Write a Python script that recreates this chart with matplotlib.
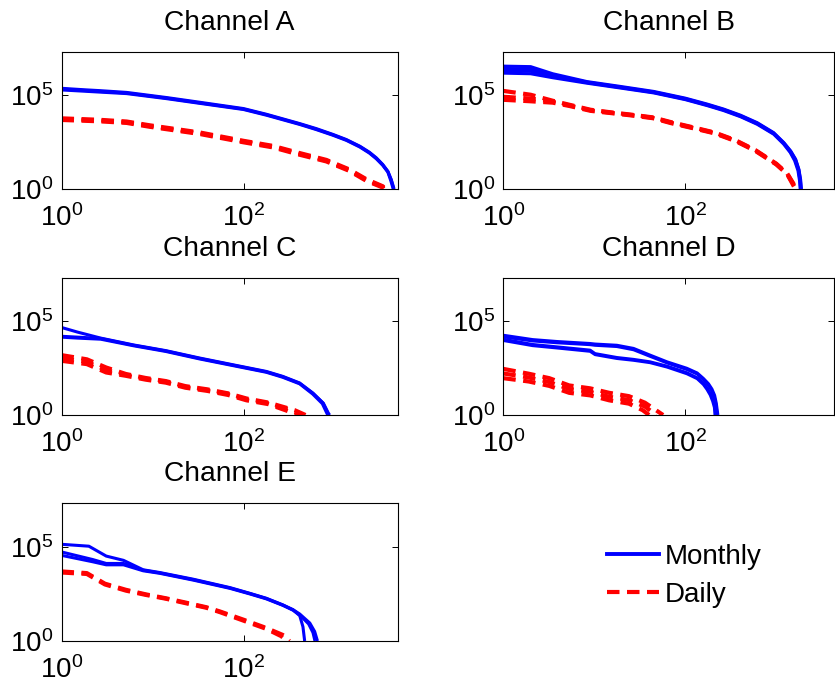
import matplotlib
matplotlib.use("Agg")
import matplotlib.pyplot as plt
from matplotlib.lines import Line2D
from matplotlib.ticker import NullLocator

plt.rcParams['font.family'] = ['Liberation Sans', 'DejaVu Sans']
plt.rcParams['mathtext.default'] = 'regular'

titles = ["Channel A", "Channel B", "Channel C", "Channel D", "Channel E"]
series_labels = ["Monthly", "Daily"]
x_ticks = [1, 100]
y_ticks = [1, 1e5]

# ---- Channel A: rank vs. count ----
a_monthly = [
    ([1, 1.74, 2.65, 5.2, 14.3, 33, 100, 179, 415, 630, 960, 1350, 1900, 2420, 2880, 3390, 3860, 4200, 4520],
     [2.2e5, 1.85e5, 1.65e5, 1.33e5, 7.1e4, 4.0e4, 1.85e4, 9.2e3, 2.95e3, 1.6e3, 790, 420, 186, 89, 45, 20, 8.7, 3.2, 1]),
    ([1, 1.74, 2.65, 5.2, 14.3, 33, 100, 179, 415, 630, 960, 1350, 1900, 2420, 2880, 3390, 3860, 4200, 4470],
     [2.0e5, 1.7e5, 1.5e5, 1.23e5, 6.6e4, 3.7e4, 1.74e4, 8.7e3, 2.8e3, 1.5e3, 750, 400, 178, 85, 43, 19, 8.3, 3.0, 1]),
    ([1, 1.74, 2.65, 5.2, 14.3, 33, 100, 179, 415, 630, 960, 1350, 1900, 2420, 2880, 3390, 3860, 4150, 4420],
     [1.8e5, 1.55e5, 1.38e5, 1.15e5, 6.2e4, 3.5e4, 1.65e4, 8.2e3, 2.65e3, 1.42e3, 710, 380, 168, 80, 40, 18, 7.8, 2.8, 1]),
]
a_daily = [
    ([1, 2.6, 5.2, 9.3, 33, 100, 209, 417, 813, 1450, 2240, 3390, 3600],
     [5.6e3, 4.7e3, 3.8e3, 2.4e3, 1.0e3, 360, 195, 80, 35, 11, 3.3, 1.4, 1]),
    ([1, 2.6, 5.2, 9.3, 33, 100, 209, 417, 813, 1450, 2240, 3390, 3550],
     [5.1e3, 4.3e3, 3.5e3, 2.2e3, 910, 330, 178, 72, 32, 10, 3.0, 1.3, 1]),
    ([1, 2.6, 5.2, 9.3, 33, 100, 209, 417, 813, 1450, 2240, 3390, 3480],
     [4.6e3, 3.9e3, 3.2e3, 2.0e3, 830, 300, 162, 65, 29, 9.2, 2.7, 1.2, 1]),
]

# ---- Channel B ----
b_monthly = [
    ([1, 2, 3.5, 8.3, 19, 45, 100, 174, 263, 405, 617, 935, 1210, 1440, 1630, 1770, 1850, 1890],
     [3.3e6, 3.1e6, 1.3e6, 5.0e5, 2.8e5, 1.5e5, 6.6e4, 3.2e4, 1.75e4, 8.2e3, 3.3e3, 980, 290, 104, 38, 11, 3.2, 1]),
    ([1, 2, 3.5, 8.3, 19, 45, 100, 174, 263, 405, 617, 935, 1210, 1440, 1630, 1770, 1840, 1870],
     [2.5e6, 2.3e6, 1.1e6, 4.7e5, 2.6e5, 1.4e5, 6.2e4, 3.0e4, 1.65e4, 7.7e3, 3.1e3, 920, 275, 98, 36, 10.5, 3.0, 1]),
    ([1, 2, 3.5, 8.3, 19, 45, 100, 174, 263, 405, 617, 935, 1210, 1430, 1610, 1750, 1820, 1850],
     [1.9e6, 1.75e6, 9.5e5, 4.4e5, 2.45e5, 1.32e5, 5.8e4, 2.8e4, 1.55e4, 7.2e3, 2.9e3, 860, 260, 92, 34, 10, 2.9, 1]),
    ([1, 2, 3.5, 8.3, 19, 45, 100, 174, 263, 405, 617, 935, 1200, 1420, 1590, 1730, 1800, 1830],
     [1.4e6, 1.3e6, 8.0e5, 4.1e5, 2.3e5, 1.25e5, 5.5e4, 2.65e4, 1.45e4, 6.8e3, 2.7e3, 810, 245, 87, 32, 9.5, 2.8, 1]),
]
b_daily = [
    ([1, 2, 3.5, 5.4, 9.1, 15.6, 26, 44, 70, 120, 209, 355, 590, 1000, 1320, 1590, 1640],
     [1.6e5, 1.0e5, 4.8e4, 2.9e4, 1.6e4, 1.15e4, 8.7e3, 6.3e3, 3.5e3, 1.9e3, 1.0e3, 390, 115, 22, 6.6, 1.5, 1]),
    ([1, 2, 3.5, 5.4, 9.1, 15.6, 26, 44, 70, 120, 209, 355, 590, 1000, 1320, 1590, 1620],
     [7.8e4, 6.3e4, 4.3e4, 2.7e4, 1.5e4, 1.1e4, 8.3e3, 6.0e3, 3.3e3, 1.8e3, 950, 370, 110, 21, 6.3, 1.4, 1]),
    ([1, 2, 3.5, 5.4, 9.1, 15.6, 26, 44, 70, 120, 209, 355, 590, 1000, 1320, 1570, 1600],
     [5.4e4, 4.5e4, 3.8e4, 2.5e4, 1.4e4, 1.05e4, 7.9e3, 5.7e3, 3.1e3, 1.7e3, 900, 350, 104, 20, 6.0, 1.3, 1]),
]

# ---- Channel C ----
c_monthly = [
    ([1, 1.5, 2.7, 6.2, 14, 33, 77, 178, 270, 414, 580, 745, 845, 870],
     [4.4e4, 2.5e4, 1.2e4, 5.2e3, 2.6e3, 1.05e3, 460, 205, 112, 50, 14.5, 4.4, 1.25, 1]),
    ([1, 1.5, 2.7, 6.2, 14, 33, 77, 178, 270, 414, 580, 755, 860, 885],
     [1.5e4, 1.35e4, 1.15e4, 5.0e3, 2.5e3, 1.0e3, 440, 195, 107, 48, 14, 4.2, 1.2, 1]),
    ([1, 1.5, 2.7, 6.2, 14, 33, 77, 178, 270, 414, 575, 735, 830, 850],
     [1.35e4, 1.2e4, 1.05e4, 4.7e3, 2.35e3, 940, 415, 185, 100, 45, 13, 4.0, 1.15, 1]),
]
c_daily = [
    ([1, 1.9, 3.1, 5.1, 8.4, 14, 23, 40, 68, 108, 186, 365, 480],
     [1.5e3, 900, 330, 150, 92, 63, 34, 23, 14, 7.5, 4.6, 1.8, 1]),
    ([1, 1.9, 3.1, 5.1, 8.4, 14, 23, 40, 68, 108, 186, 340, 440],
     [1.05e3, 660, 240, 135, 83, 58, 31, 21, 13, 6.8, 4.2, 1.7, 1]),
    ([1, 1.9, 3.1, 5.1, 8.4, 14, 23, 40, 68, 108, 186, 320, 400],
     [750, 500, 180, 120, 75, 52, 28, 19, 11.5, 6.0, 3.8, 1.5, 1]),
]

# ---- Channel D ----
d_monthly = [
    ([1, 2.1, 3.9, 9.0, 10.2, 17.7, 27, 41, 63, 104, 135, 158, 180, 196, 210, 219, 228],
     [1.7e4, 1.0e4, 7.9e3, 6.2e3, 5.8e3, 5.0e3, 3.4e3, 1.5e3, 660, 300, 170, 87, 45, 24, 11, 4.2, 1]),
    ([1, 2.1, 3.9, 9.0, 10.2, 17.7, 27, 41, 63, 104, 135, 158, 178, 194, 207, 217, 224],
     [1.4e4, 8.5e3, 6.8e3, 5.4e3, 5.0e3, 4.3e3, 2.9e3, 1.3e3, 580, 260, 150, 75, 40, 21, 10, 3.6, 1]),
    ([1, 2.1, 3.9, 9.0, 10.2, 17.7, 27, 41, 63, 104, 135, 158, 175, 190, 203, 212, 216],
     [1.05e4, 5.5e3, 4.1e3, 2.75e3, 1.8e3, 1.12e3, 890, 660, 390, 174, 95, 48, 26, 13, 6.0, 2.8, 1]),
    ([1, 2.1, 3.9, 9.0, 10.2, 17.7, 27, 41, 63, 104, 135, 158, 173, 188, 200, 209, 212],
     [9.0e3, 4.8e3, 3.6e3, 2.4e3, 1.6e3, 1.0e3, 800, 600, 350, 155, 85, 42, 23, 11.5, 5.4, 2.5, 1]),
]
d_daily = [
    ([1, 1.9, 3.2, 5.3, 9.0, 14.6, 24, 36, 57],
     [280, 155, 90, 37, 26, 15, 10, 4.5, 1]),
    ([1, 1.9, 3.2, 5.3, 9.0, 14.6, 24, 36, 48],
     [160, 98, 56, 24, 17, 9.3, 6.2, 2.8, 1]),
    ([1, 1.9, 3.2, 5.3, 9.0, 14.6, 24, 34, 40],
     [90, 60, 35, 15, 11, 6.0, 4.0, 1.8, 1]),
]

# ---- Channel E ----
e_monthly = [
    ([1, 2.0, 3.1, 4.8, 7.9, 12, 28, 71, 117, 178, 270, 350, 415, 450, 470],
     [1.35e5, 1.07e5, 3.2e4, 1.9e4, 6.0e3, 4.3e3, 1.9e3, 680, 340, 185, 83, 45, 22, 5.7, 1]),
    ([1, 2.2, 3.1, 4.8, 7.9, 12, 28, 71, 117, 178, 270, 350, 415, 535, 605, 650],
     [5.3e4, 2.1e4, 1.3e4, 1.3e4, 5.7e3, 4.1e3, 1.8e3, 650, 330, 180, 81, 46, 27, 9.0, 3.2, 1]),
    ([1, 2.2, 3.1, 4.8, 7.9, 12, 28, 71, 117, 178, 270, 350, 415, 520, 580, 610],
     [3.5e4, 1.6e4, 1.1e4, 1.1e4, 5.3e3, 3.9e3, 1.7e3, 620, 315, 172, 78, 43, 24, 8.0, 2.8, 1]),
]
e_daily = [
    ([1, 1.9, 3.0, 5.1, 8.4, 14, 23, 39, 55, 100, 178, 270, 320],
     [4.9e3, 4.0e3, 1.1e3, 520, 300, 185, 110, 62, 37, 13.5, 4.9, 2.1, 1]),
    ([1, 1.9, 3.0, 5.1, 8.4, 14, 23, 39, 55, 100, 178, 260, 300],
     [4.3e3, 3.6e3, 1.0e3, 470, 280, 175, 102, 58, 34, 12, 4.4, 1.8, 1]),
]

channel_data = [
    (a_monthly, a_daily),
    (b_monthly, b_daily),
    (c_monthly, c_daily),
    (d_monthly, d_daily),
    (e_monthly, e_daily),
]

W, H = 835, 686
fig = plt.figure(figsize=(W / 100, H / 100), dpi=100)

# axes rectangles in pixels: left, top, right, bottom
rects = [
    (61.5, 52, 397.5, 189),
    (503.3, 52, 834.3, 189),
    (61.5, 278, 397.5, 415),
    (503.3, 278, 834.3, 415),
    (61.5, 503, 397.5, 641),
]

blue = (0, 0, 1)
red = (1, 0, 0)
dash = (0, (3.0, 1.8))
px_per_decade_x = 91.0
px_per_decade_y = 18.85

for title, (monthly, daily), (l, t, r, b) in zip(titles, channel_data, rects):
    ax = fig.add_axes([l / W, 1 - b / H, (r - l) / W, (b - t) / H])
    for ranks, counts in monthly:
        ax.plot(ranks, counts, color=blue, lw=2.2, solid_capstyle='butt')
    for ranks, counts in daily:
        ax.plot(ranks, counts, color=red, lw=3.0, linestyle=dash)
    ax.set_xscale('log')
    ax.set_yscale('log')
    ax.set_xlim(1, 10 ** ((r - l) / px_per_decade_x))
    ax.set_ylim(1, 10 ** ((b - t) / px_per_decade_y))
    ax.set_xticks(x_ticks)
    ax.set_yticks(y_ticks)
    ax.xaxis.set_minor_locator(NullLocator())
    ax.yaxis.set_minor_locator(NullLocator())
    ax.tick_params(axis='both', which='major', direction='in', length=4, width=0.7,
                   top=True, right=True, labelsize=20)
    ax.tick_params(axis='x', pad=11)
    ax.tick_params(axis='y', pad=6)
    for sp in ax.spines.values():
        sp.set_linewidth(0.8)
    ax.set_title(title, fontsize=20.3, pad=16)

handles = [
    Line2D([], [], color=blue, lw=2.8),
    Line2D([], [], color=red, lw=3.0, linestyle=dash),
]
fig.legend(handles, series_labels, loc='upper left',
           bbox_to_anchor=(607 / W, 1 - 544 / H), frameon=False,
           fontsize=20, handlelength=1.87, handletextpad=0.22,
           labelspacing=0.42, borderpad=0, borderaxespad=0)

fig.savefig("out.png", dpi=100)
